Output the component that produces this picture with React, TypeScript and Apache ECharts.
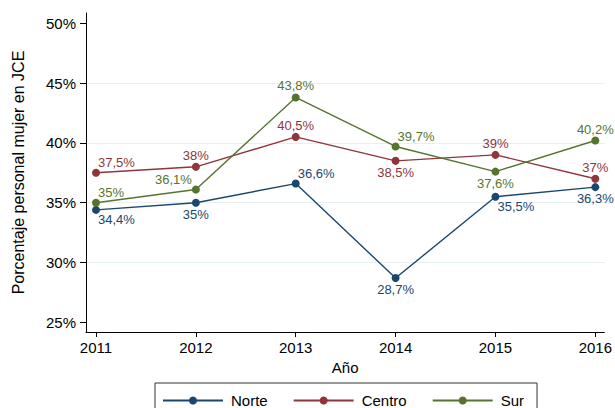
import React, { useEffect, useRef } from "react";
import * as echarts from "echarts";

const years = [2011, 2012, 2013, 2014, 2015, 2016];
const norte = [34.4, 35, 36.6, 28.7, 35.5, 36.3];
const centro = [37.5, 38, 40.5, 38.5, 39, 37];
const sur = [35, 36.1, 43.8, 39.7, 37.6, 40.2];
const yTicks = [25, 30, 35, 40, 45, 50];
const gridValues = [30, 35, 40, 45];

// label placement per point (style)
const norteLab = ["br", "bottom", "tr", "bottom", "br", "bottom"];
const centroLab = ["tr", "top", "top", "bottom", "top", "top"];
const surLab = ["tr", "tl", "top", "tr", "bottom", "top"];

const FONT = "'Liberation Sans', Arial, Helvetica, sans-serif";

function labelFor(pos: string, color: string) {
  const base: any = { show: true, color, fontSize: 13, fontFamily: FONT, distance: 1 };
  if (pos === "top") return { ...base, position: "top" };
  if (pos === "bottom") return { ...base, position: "bottom" };
  if (pos === "tr") return { ...base, position: "right", distance: 0, offset: [-2, -10] };
  if (pos === "br") return { ...base, position: "right", distance: 0, offset: [-2, 10] };
  if (pos === "tl") return { ...base, position: "left", distance: 0, offset: [0, -10] };
  return base;
}

function fmt(v: number) {
  return String(v).replace(".", ",") + "%";
}

function mkSeries(name: string, vals: number[], labs: string[], color: string) {
  return {
    name,
    type: "line",
    xAxisIndex: 0,
    yAxisIndex: 0,
    symbol: "circle",
    symbolSize: 8,
    lineStyle: { color, width: 1.4 },
    itemStyle: { color },
    data: vals.map((v, i) => ({
      value: [years[i], v],
      label: { ...labelFor(labs[i], color), formatter: () => fmt(v) },
    })),
    z: 3,
  };
}

export default function App() {
  const ref = useRef<HTMLDivElement>(null);
  useEffect(() => {
    if (!ref.current) return;
    const chart = echarts.init(ref.current, null, { renderer: "svg" });
    const axisText = { color: "#000", fontSize: 15, fontFamily: FONT };
    chart.setOption({
      animation: false,
      backgroundColor: "#fff",
      grid: [
        { left: 86, right: 10, top: 13, bottom: 76 },
        { left: 86, right: 10, top: 83.1, bottom: 145.5 },
      ],
      xAxis: [
        {
          type: "value",
          gridIndex: 0,
          min: 2010.9,
          max: 2016.09,
          name: "Año",
          nameLocation: "middle",
          nameGap: 21,
          nameTextStyle: axisText,
          axisLine: { show: true, lineStyle: { color: "#000", width: 1 } },
          axisTick: { show: true, length: 5, lineStyle: { color: "#000" }, customValues: years },
          axisLabel: { ...axisText, margin: 8, customValues: years, formatter: (v: number) => String(v) },
          splitLine: { show: false },
        },
        {
          type: "value",
          gridIndex: 1,
          min: 2010.9,
          max: 2016.09,
          show: false,
        },
      ],
      yAxis: [
        {
          type: "value",
          gridIndex: 0,
          min: 24.19,
          max: 50.86,
          name: "Porcentaje personal mujer en JCE",
          nameLocation: "middle",
          nameGap: 60,
          nameTextStyle: { ...axisText, fontSize: 16 },
          axisLine: { show: true, lineStyle: { color: "#000", width: 1 } },
          axisTick: { show: true, length: 6, lineStyle: { color: "#000" }, customValues: yTicks },
          axisLabel: { ...axisText, margin: 10, customValues: yTicks, formatter: (v: number) => v + "%" },
          splitLine: { show: false },
        },
        {
          type: "value",
          gridIndex: 1,
          min: gridValues[0],
          max: gridValues[gridValues.length - 1],
          interval: 5,
          axisLine: { show: false },
          axisTick: { show: false },
          axisLabel: { show: false },
          splitLine: { show: true, lineStyle: { color: "#e6eff1", width: 1 } },
        },
      ],
      legend: {
        left: 155,
        top: 383,
        orient: "horizontal",
        padding: [10, 13, 12, 7],
        itemGap: 25,
        itemWidth: 60,
        itemHeight: 10,
        borderColor: "#333",
        borderWidth: 1,
        textStyle: { color: "#000", fontSize: 15, lineHeight: 13, fontFamily: FONT, padding: [0, 0, 0, 3] },
        data: ["Norte", "Centro", "Sur"],
      },
      series: [
        mkSeries("Norte", norte, norteLab, "#1a476f"),
        mkSeries("Centro", centro, centroLab, "#90353b"),
        mkSeries("Sur", sur, surLab, "#55752f"),
      ],
    });
    return () => chart.dispose();
  }, []);
  return <div ref={ref} style={{ width: 615, height: 408, position: "absolute", left: 0, top: 0 }} />;
}
